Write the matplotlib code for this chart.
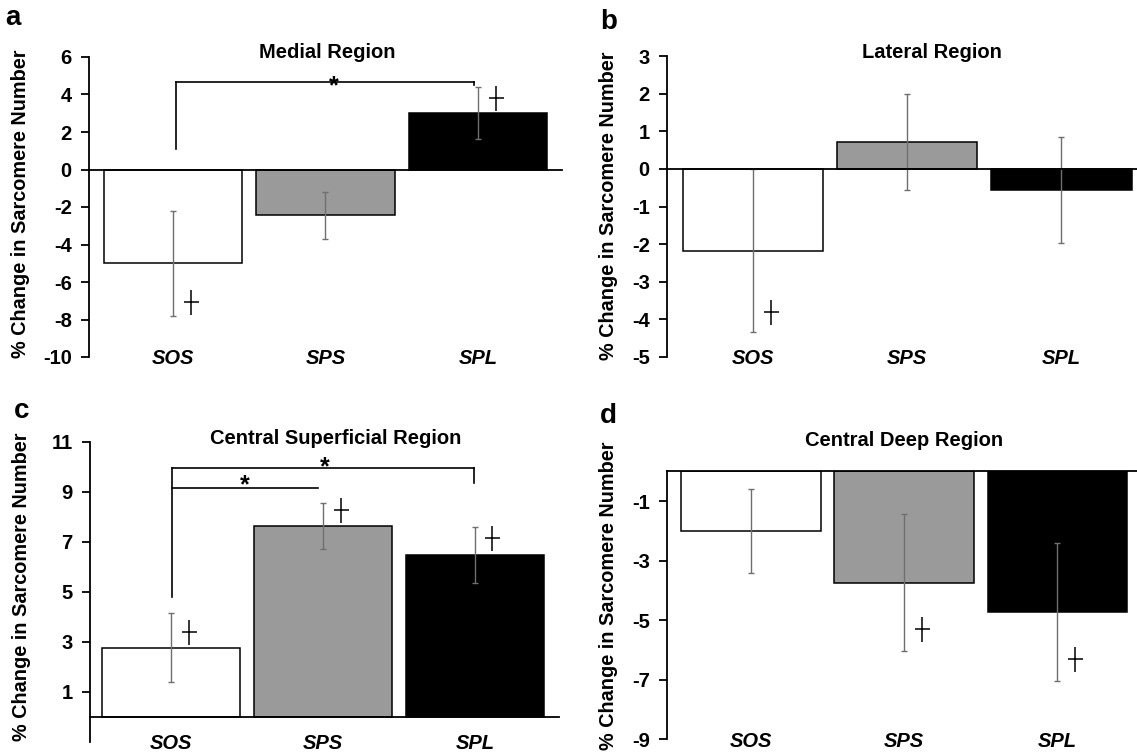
import numpy as np
import matplotlib
matplotlib.use('Agg')
import matplotlib.pyplot as plt
from matplotlib.path import Path

plt.rcParams['font.family'] = ['Liberation Sans', 'DejaVu Sans']
plt.rcParams['font.weight'] = 'bold'

# Data
groups = ['SOS', 'SPS', 'SPL']
bar_colors = ['white', '#9a9a9a', 'black']

medial_mean = [-5.0, -2.45, 3.02]
medial_err = [2.8, 1.27, 1.38]
lateral_mean = [-2.17, 0.71, -0.57]
lateral_err = [2.17, 1.28, 1.41]
superficial_mean = [2.76, 7.63, 6.47]
superficial_err = [1.39, 0.91, 1.12]
deep_mean = [-2.02, -3.75, -4.73]
deep_err = [1.41, 2.30, 2.31]

# '+' annotations: bar index and height
medial_plus_idx = [0, 2]
medial_plus_y = [-7.05, 3.8]
lateral_plus_idx = [0]
lateral_plus_y = [-3.8]
superficial_plus_idx = [0, 1, 2]
superficial_plus_y = [3.37, 8.27, 7.13]
deep_plus_idx = [1, 2]
deep_plus_y = [-5.3, -6.3]

# significance brackets: (x start, x end, y left foot, y top, y right foot, star x, star y)
medial_brackets = [(0.02, 1.976, 1.1, 4.65, 4.5, 1.056, 4.85)]
superficial_brackets = [(0.005, 1.995, 4.8, 9.93, 9.33, 1.007, 10.27),
                        (0.005, 0.965, None, 9.13, None, 0.482, 9.55)]

plus_path = Path([(-0.3, 0), (0.3, 0), (0, -0.5), (0, 0.5)],
                 [Path.MOVETO, Path.LINETO, Path.MOVETO, Path.LINETO])

W, H = 1137, 755
STAR_SIZE = 18


def px(x, y):
    return x / W, 1 - y / H


def draw_panel(ax, means, errs, ylim, yticks, xlim, plus_idx, plus_y, brackets):
    x = np.arange(len(groups))
    ax.bar(x, means, width=0.91, color=bar_colors, edgecolor='black', linewidth=1.1, zorder=2)
    ax.errorbar(x, means, yerr=errs, fmt='none', ecolor='#6f6f6f', elinewidth=1.0,
                capsize=2.5, capthick=1.0, zorder=3)
    ax.axhline(0, color='black', linewidth=1.3, zorder=4, clip_on=False)
    ax.plot(np.array(plus_idx) + 0.115, plus_y, linestyle='none', marker=plus_path,
            markersize=18, markeredgewidth=1.1, color='black', zorder=5)
    for x0, x1, yl, yt, yr, sx, sy in brackets:
        if yl is not None:
            ax.plot([x0, x0], [yl, yt], color='black', lw=1.2, clip_on=False)
        if yr is not None:
            ax.plot([x1, x1], [yt, yr], color='black', lw=1.2, clip_on=False)
        ax.plot([x0, x1], [yt, yt], color='black', lw=1.2, clip_on=False)
        # asterisk glyph sits ~0.58 em above baseline; shift so its centre lands on sy
        ax.annotate('*', (sx, sy), xytext=(0, -0.58 * STAR_SIZE), textcoords='offset points',
                    ha='center', va='baseline', fontsize=STAR_SIZE, fontweight='bold')
    ax.set_xlim(*xlim)
    ax.set_ylim(*ylim)
    ax.set_yticks(yticks)
    ax.set_yticklabels([str(t) for t in yticks], fontsize=14.5, fontweight='bold')
    ax.set_xticks([])
    for s in ['top', 'right', 'bottom']:
        ax.spines[s].set_visible(False)
    ax.spines['left'].set_linewidth(1.3)
    ax.tick_params(axis='y', length=5.5, width=1.3, pad=7)
    for i, g in enumerate(groups):
        ax.text(i, ylim[0], g, ha='center', va='center_baseline', fontsize=14.5,
                fontweight='bold', style='italic', clip_on=False)


fig = plt.figure(figsize=(W / 100, H / 100), dpi=100)

ax_a = fig.add_axes([89 / W, 1 - 357 / H, 473 / W, 300 / H])
ax_b = fig.add_axes([667 / W, 1 - 357 / H, 470 / W, 301 / H])
ax_c = fig.add_axes([90 / W, 1 - 741.7 / H, 469 / W, 300 / H])
ax_d = fig.add_axes([667 / W, 1 - 739.3 / H, 470 / W, 268 / H])

draw_panel(ax_a, medial_mean, medial_err, (-10, 6), list(range(-10, 7, 2)), (-0.551, 2.551),
           medial_plus_idx, medial_plus_y, medial_brackets)
draw_panel(ax_b, lateral_mean, lateral_err, (-5, 3), list(range(-5, 4)), (-0.558, 2.49),
           lateral_plus_idx, lateral_plus_y, [])
draw_panel(ax_c, superficial_mean, superficial_err, (-1, 11), list(range(1, 12, 2)), (-0.536, 2.553),
           superficial_plus_idx, superficial_plus_y, superficial_brackets)
draw_panel(ax_d, deep_mean, deep_err, (-9, 0), list(range(-9, 0, 2)), (-0.548, 2.519),
           deep_plus_idx, deep_plus_y, [])

# titles
titles = ['Medial Region', 'Lateral Region', 'Central Superficial Region', 'Central Deep Region']
title_pos = [(327, 53), (932, 53), (336, 438), (904, 441)]
for t, (tx, ty) in zip(titles, title_pos):
    fig.text(*px(tx, ty), t, ha='center', va='center', fontsize=14.5, fontweight='bold')

# panel letters
for letter, (lx, ly) in zip('abcd', [(5, 25), (600, 29), (14, 418), (600, 423)]):
    fig.text(*px(lx, ly), letter, ha='left', va='baseline', fontsize=20, fontweight='bold')

# y labels
for (yx, yy) in [(21, 204), (609, 206), (22, 587), (609, 596)]:
    fig.text(*px(yx, yy), '% Change in Sarcomere Number', rotation=90, ha='center', va='center',
             fontsize=14.3, fontweight='bold')

fig.savefig('out.png', dpi=100)
